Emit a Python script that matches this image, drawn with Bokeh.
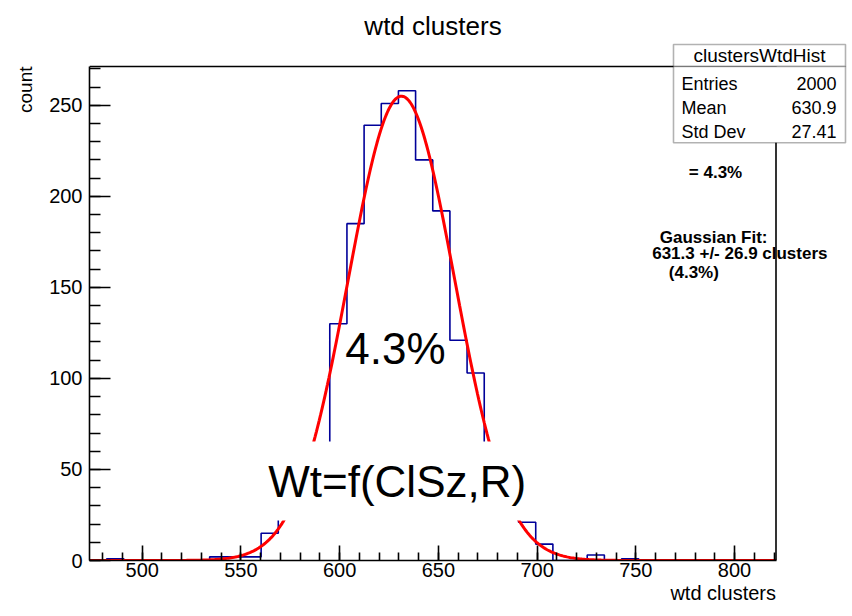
import numpy as np
from bokeh.plotting import figure
from bokeh.models import FixedTicker, Label, BoxAnnotation, Range1d, Title
from bokeh.embed import file_html
from bokeh.resources import INLINE

# ---------------- data ----------------
x_min = 473.3
x_max = 821.0
y_max = 271.3
counts = [0, 1, 0, 0, 0, 0, 0, 2, 2, 2,
          15, 30, 50, 64, 130, 185, 239, 251, 258, 220,
          192, 121, 103, 62, 39, 21, 9, 0, 0, 3,
          0, 1, 0, 0, 0, 0, 0, 0, 0, 0]
x_major_ticks = [500, 550, 600, 650, 700, 750, 800]
x_minor_ticks = list(range(480, 821, 10))
y_major_ticks = [0, 50, 100, 150, 200, 250]
y_minor_ticks = list(range(0, 271, 10))
fit_mean = 631.3
fit_sigma = 26.9
fit_peak = 255.0
stats_title = "clustersWtdHist"
stats_names = ["Entries", "Mean", "Std Dev"]
stats_values = ["2000", "630.9", "27.41"]
fit_lines = ["Gaussian Fit:", "631.3 +/- 26.9 clusters", "(4.3%)"]

FONT = "Liberation Sans"

# ---------------- layout (canvas pixels) ----------------
W, H = 852, 616
FL, FR, FT, FB = 89, 848, 2, 560        # bokeh frame
AX_R, AX_T = 775.5, 66                  # ROOT frame right / top edge

x_view_max = x_min + (FR - FL) * (x_max - x_min) / (AX_R - FL)
y_view_max = y_max * (FB - FT) / (FB - AX_T)

# histogram outline
edges = np.linspace(x_min, x_max, len(counts) + 1)
hx, hy = [edges[0]], [0]
for i, c in enumerate(counts):
    hx += [edges[i], edges[i + 1]]
    hy += [c, c]
hx.append(edges[-1]); hy.append(0)

# gaussian fit curve from the displayed fit parameters
fx = np.linspace(x_min, x_max, 500)
fy = fit_peak * np.exp(-0.5 * ((fx - fit_mean) / fit_sigma) ** 2)

p = figure(width=W, height=H, frame_width=FR - FL, frame_height=FB - FT,
           min_border_left=FL, min_border_right=W - FR,
           min_border_top=FT, min_border_bottom=H - FB,
           x_range=Range1d(x_min, x_view_max), y_range=Range1d(0, y_view_max),
           title=None, output_backend="svg", toolbar_location=None)
p.outline_line_color = None
p.xgrid.grid_line_color = None
p.ygrid.grid_line_color = None
p.background_fill_color = "white"
p.border_fill_color = "white"

p.line(hx, hy, line_color="#000099", line_width=1.6)
p.line(fx, fy, line_color="#ff0000", line_width=3)
# ROOT frame top and right edges
p.line([x_min, x_max, x_max], [y_max, y_max, 0], line_color="black", line_width=1.6)

xa = p.xaxis[0]
ya = p.yaxis[0]
xa.ticker = FixedTicker(ticks=x_major_ticks, minor_ticks=x_minor_ticks)
ya.ticker = FixedTicker(ticks=y_major_ticks, minor_ticks=y_minor_ticks)
xa.bounds = (x_min, x_max)
ya.bounds = (0, y_max)
for ax, mj, mn, so in [(xa, 15, 8, 2), (ya, 21, 11, 7)]:
    ax.axis_line_color = "black"
    ax.axis_line_width = 1.6
    ax.major_tick_in = mj
    ax.major_tick_out = 0
    ax.minor_tick_in = mn
    ax.minor_tick_out = 0
    ax.major_tick_line_color = "black"
    ax.minor_tick_line_color = "black"
    ax.major_tick_line_width = 1.6
    ax.minor_tick_line_width = 1.6
    ax.major_label_text_font = FONT
    ax.major_label_text_font_size = "20px"
    ax.major_label_text_color = "black"
    ax.major_label_standoff = so

# axis titles (ROOT style: at the end of the axis)
p.add_layout(Title(text="wtd clusters", align="right", offset=(FR - AX_R),
                   text_font=FONT, text_font_size="20px", text_font_style="normal",
                   text_color="black", standoff=0), "below")
p.add_layout(Title(text="count", align="right", offset=(AX_T - FT),
                   text_font=FONT, text_font_size="19px", text_font_style="normal",
                   text_color="black", standoff=22), "left")


def sx(X):
    return X - FL


def sy(Y):
    return FB - Y


def lab(text, X, Y, size, align="left", baseline="middle", style="normal"):
    p.add_layout(Label(x=sx(X), y=sy(Y), x_units="screen", y_units="screen",
                       text=text, text_font=FONT, text_font_size=f"{size}px",
                       text_font_style=style, text_align=align,
                       text_baseline=baseline, text_color="black"))


def box(L, R, T, B, line=True):
    p.add_layout(BoxAnnotation(left=sx(L), right=sx(R), top=sy(T), bottom=sy(B),
                               left_units="screen", right_units="screen",
                               top_units="screen", bottom_units="screen",
                               fill_color="white", fill_alpha=1.0,
                               line_color="black" if line else None,
                               line_width=1.6))


# white box behind the formula text
box(263, 531, 441, 520, line=False)

# stats box
box(673, 845, 44, AX_T)
box(673, 845, AX_T, 142.3)
lab(stats_title, 759, 55, 19, align="center")
for i, (n, v) in enumerate(zip(stats_names, stats_values)):
    yy = 83 + 24 * i
    lab(n, 681, yy, 18, align="left")
    lab(v, 836, yy, 18, align="right")

# main title
lab("wtd clusters", 432.5, 25, 26, align="center", baseline="middle")

# fit annotations
lab("= 4.3%", 715, 171.7, 17, align="center", style="bold")
lab(fit_lines[0], 659.3, 237, 17, style="bold")
lab(fit_lines[1], 651.7, 253, 17, style="bold")
lab(fit_lines[2], 668.3, 271.5, 17, style="bold")

# big overlay texts
lab("4.3%", 395, 348, 44, align="center")
lab("Wt=f(ClSz,R)", 396.7, 481, 44, align="center")

open("out.html", "w").write(file_html(p, INLINE))
